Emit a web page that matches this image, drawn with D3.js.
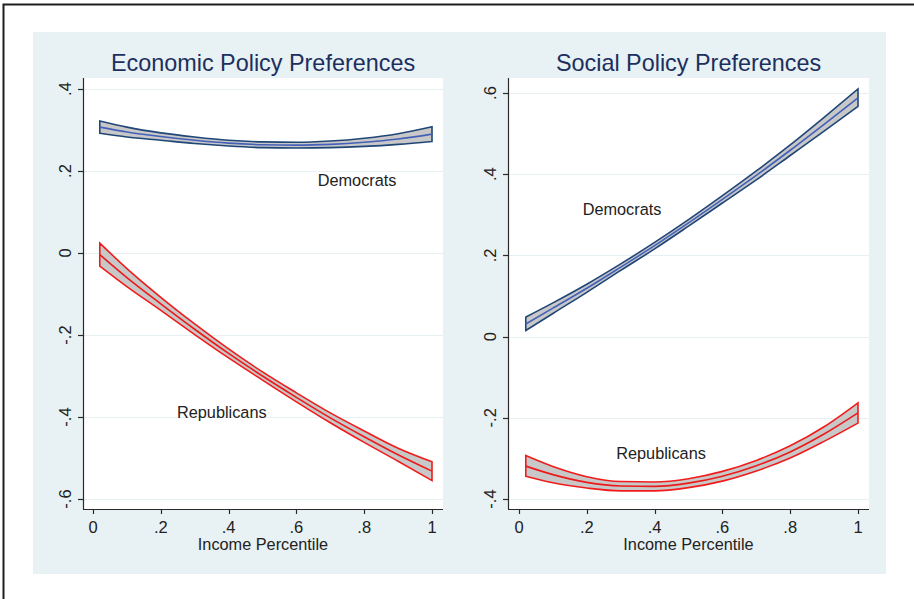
<!DOCTYPE html>
<html>
<head>
<meta charset="utf-8">
<script src="https://cdn.jsdelivr.net/npm/d3@7"></script>
<style>
  body { margin: 0; background: #fff; }
  text { font-family: "Liberation Sans", Arial, sans-serif; }
</style>
</head>
<body>
<div id="chart"></div>
<script>
// income percentile grid used for both panels
const income = [0.02, 0.1, 0.2, 0.3, 0.4, 0.5, 0.6, 0.7, 0.8, 0.9, 1.0]

// Economic policy preferences (fitted value and 95% band)
const econDemMean = [0.307, 0.295, 0.284, 0.275, 0.268, 0.264, 0.263, 0.265, 0.270, 0.278, 0.290]
const econDemLo = [0.292, 0.283, 0.275, 0.267, 0.261, 0.257, 0.256, 0.257, 0.260, 0.265, 0.272]
const econDemHi = [0.322, 0.307, 0.293, 0.283, 0.275, 0.271, 0.270, 0.273, 0.280, 0.291, 0.308]
const econRepMean = [-0.004, -0.060, -0.124, -0.186, -0.245, -0.300, -0.352, -0.402, -0.448, -0.492, -0.532]
const econRepLo = [-0.032, -0.082, -0.140, -0.199, -0.256, -0.310, -0.363, -0.414, -0.462, -0.508, -0.555]
const econRepHi = [0.024, -0.038, -0.108, -0.173, -0.234, -0.290, -0.341, -0.390, -0.434, -0.476, -0.509]

// Social policy preferences
const socDemMean = [0.031, 0.070, 0.119, 0.171, 0.224, 0.280, 0.338, 0.397, 0.459, 0.523, 0.588]
const socDemLo = [0.015, 0.057, 0.109, 0.163, 0.216, 0.272, 0.329, 0.386, 0.446, 0.506, 0.567]
const socDemHi = [0.048, 0.083, 0.129, 0.179, 0.232, 0.288, 0.347, 0.408, 0.472, 0.540, 0.610]
const socRepMean = [-0.319, -0.340, -0.359, -0.368, -0.369, -0.361, -0.344, -0.318, -0.284, -0.240, -0.188]
const socRepLo = [-0.344, -0.360, -0.373, -0.380, -0.380, -0.372, -0.356, -0.331, -0.299, -0.258, -0.213]
const socRepHi = [-0.293, -0.320, -0.345, -0.357, -0.358, -0.350, -0.332, -0.305, -0.269, -0.222, -0.163]

const xTicks = [0, 0.2, 0.4, 0.6, 0.8, 1]
const econYTicks = [-0.6, -0.4, -0.2, 0, 0.2, 0.4]
const socYTicks = [-0.4, -0.2, 0, 0.2, 0.4, 0.6]

const width = 914
const height = 599

const svg = d3.select('#chart').append('svg')
  .attr('width', width)
  .attr('height', height)

// outer frame (only top and left edges visible)
svg.append('path')
  .attr('d', 'M3.5,' + height + 'V4.5H' + width)
  .attr('fill', 'none')
  .attr('stroke', '#1e1e1e')
  .attr('stroke-width', 2)

// graph region background
svg.append('rect')
  .attr('x', 33).attr('y', 32)
  .attr('width', 853).attr('height', 542)
  .attr('fill', '#e8f1f3')

// Stata style labels: ".2", "-.4", "0", "1"
const fmt = (d) => {
  if (d === 0) return '0'
  if (d === 1) return '1'
  const s = Math.abs(d).toFixed(1).replace('0.', '.')
  return d < 0 ? '-' + s : s
}

const blue = { edge: '#1f4677', mid: '#4560b8' }
const red = { edge: '#f01c1c', mid: '#ec1a1a' }

function panel(opts) {
  const { box, xRange, yDomain, yRange, title, yTicks, series, labels } = opts
  const g = svg.append('g')

  const x = d3.scaleLinear().domain([0, 1]).range(xRange)
  const y = d3.scaleLinear().domain(yDomain).range(yRange)

  // plot area
  g.append('rect')
    .attr('x', box.x0).attr('y', box.y0)
    .attr('width', box.x1 - box.x0).attr('height', box.y1 - box.y0)
    .attr('fill', '#fff')

  // grid lines
  g.selectAll('.grid')
    .data(yTicks)
    .join('line')
    .attr('x1', box.x0).attr('x2', box.x1)
    .attr('y1', (d) => Math.round(y(d)) + 0.5)
    .attr('y2', (d) => Math.round(y(d)) + 0.5)
    .attr('stroke', '#e6eff1')
    .attr('stroke-width', 1.2)

  // bands
  series.forEach((s) => {
    const pts = income.map((v, i) => ({ x: v, m: s.mean[i], lo: s.lo[i], hi: s.hi[i] }))
    const area = d3.area()
      .x((d) => x(d.x))
      .y0((d) => y(d.lo))
      .y1((d) => y(d.hi))
      .curve(d3.curveMonotoneX)
    const line = d3.line()
      .x((d) => x(d.x))
      .y((d) => y(d.m))
      .curve(d3.curveMonotoneX)
    g.append('path')
      .attr('d', area(pts))
      .attr('fill', '#c8c8c8')
      .attr('stroke', s.color.edge)
      .attr('stroke-width', 1.6)
    g.append('path')
      .attr('d', line(pts))
      .attr('fill', 'none')
      .attr('stroke', s.color.mid)
      .attr('stroke-width', 1.6)
  })

  // y axis
  const yAxis = g.append('g')
  yAxis.append('line')
    .attr('x1', box.x0 + 0.5).attr('x2', box.x0 + 0.5)
    .attr('y1', box.y0).attr('y2', box.y1)
    .attr('stroke', '#2a2a2a').attr('stroke-width', 1.2)
  yAxis.selectAll('.tick')
    .data(yTicks)
    .join('line')
    .attr('x1', box.x0 - 5).attr('x2', box.x0)
    .attr('y1', (d) => Math.round(y(d)) + 0.5)
    .attr('y2', (d) => Math.round(y(d)) + 0.5)
    .attr('stroke', '#2a2a2a').attr('stroke-width', 1.2)
  yAxis.selectAll('text')
    .data(yTicks)
    .join('text')
    .attr('transform', (d) => 'translate(' + (box.x0 - 12) + ',' + y(d) + ') rotate(-90)')
    .attr('text-anchor', 'middle')
    .attr('font-size', 16.5)
    .attr('fill', '#222')
    .text(fmt)

  // x axis
  const xAxis = g.append('g')
  xAxis.append('line')
    .attr('x1', box.x0).attr('x2', box.x1)
    .attr('y1', box.y1 + 0.5).attr('y2', box.y1 + 0.5)
    .attr('stroke', '#2a2a2a').attr('stroke-width', 1.2)
  xAxis.selectAll('.tick')
    .data(xTicks)
    .join('line')
    .attr('x1', (d) => Math.round(x(d)) + 0.5)
    .attr('x2', (d) => Math.round(x(d)) + 0.5)
    .attr('y1', box.y1).attr('y2', box.y1 + 5)
    .attr('stroke', '#2a2a2a').attr('stroke-width', 1.2)
  xAxis.selectAll('text')
    .data(xTicks)
    .join('text')
    .attr('x', (d) => x(d))
    .attr('y', box.y1 + 24)
    .attr('text-anchor', 'middle')
    .attr('font-size', 16.5)
    .attr('fill', '#222')
    .text(fmt)

  g.append('text')
    .attr('x', (box.x0 + box.x1) / 2)
    .attr('y', box.y1 + 41)
    .attr('text-anchor', 'middle')
    .attr('font-size', 16.3)
    .attr('fill', '#222')
    .text('Income Percentile')

  g.append('text')
    .attr('x', (box.x0 + box.x1) / 2)
    .attr('y', 71)
    .attr('text-anchor', 'middle')
    .attr('font-size', 23.4)
    .attr('fill', '#1c2f5e')
    .text(title)

  g.selectAll('.lab')
    .data(labels)
    .join('text')
    .attr('x', (d) => x(d.x))
    .attr('y', (d) => y(d.y))
    .attr('text-anchor', 'middle')
    .attr('font-size', 16.3)
    .attr('fill', '#222')
    .text((d) => d.text)
}

panel({
  box: { x0: 83, x1: 443, y0: 78, y1: 509 },
  xRange: [93, 432],
  yDomain: [-0.6, 0.4],
  yRange: [499, 89],
  title: 'Economic Policy Preferences',
  yTicks: econYTicks,
  series: [
    { mean: econDemMean, lo: econDemLo, hi: econDemHi, color: blue },
    { mean: econRepMean, lo: econRepLo, hi: econRepHi, color: red }
  ],
  labels: [
    { text: 'Democrats', x: 0.779, y: 0.163 },
    { text: 'Republicans', x: 0.38, y: -0.402 }
  ]
})

panel({
  box: { x0: 508, x1: 869, y0: 78, y1: 509 },
  xRange: [519, 858],
  yDomain: [-0.4, 0.6],
  yRange: [499, 93],
  title: 'Social Policy Preferences',
  yTicks: socYTicks,
  series: [
    { mean: socDemMean, lo: socDemLo, hi: socDemHi, color: blue },
    { mean: socRepMean, lo: socRepLo, hi: socRepHi, color: red }
  ],
  labels: [
    { text: 'Democrats', x: 0.304, y: 0.299 },
    { text: 'Republicans', x: 0.419, y: -0.301 }
  ]
})
</script>
</body>
</html>
